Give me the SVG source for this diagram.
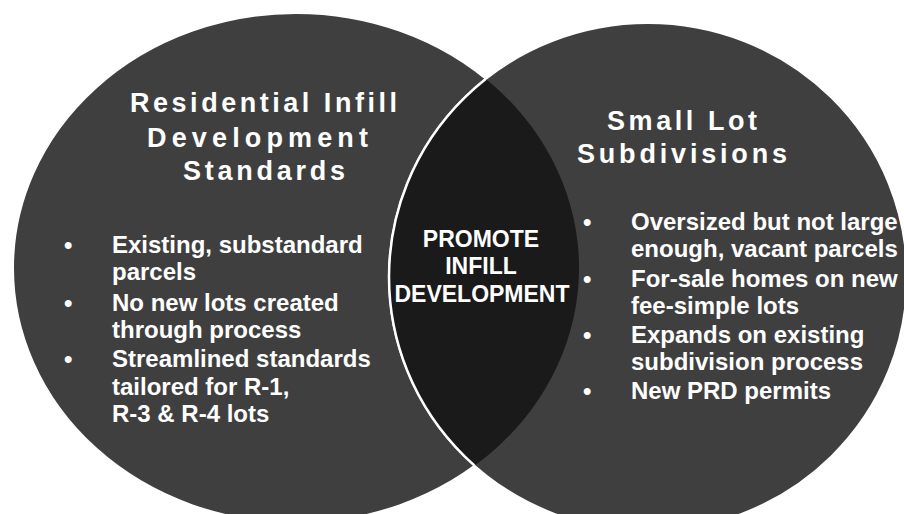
<svg xmlns="http://www.w3.org/2000/svg" width="904" height="514" viewBox="0 0 904 514">
  <defs>
    <clipPath id="clip-left">
      <ellipse cx="296" cy="268" rx="283" ry="255"/>
    </clipPath>
    <style>
      .set { fill: #3f3f3f; stroke: #ffffff; stroke-width: 2; }
      .lens { fill: #1a1a1a; stroke: #ffffff; stroke-width: 2.5; }
      text { font-family: "Liberation Sans", Arial, sans-serif; font-weight: bold; fill: #ffffff; }
      .title { font-size: 27px; }
      .body { font-size: 24px; }
      .mid { font-size: 23px; text-anchor: middle; }
    </style>
  </defs>
  <rect width="904" height="514" fill="#ffffff"/>

  <g id="left-set">
    <ellipse class="set" cx="296" cy="268" rx="283" ry="255"/>
  </g>

  <g id="right-set">
    <ellipse class="set" cx="648" cy="277" rx="259" ry="254"/>
  </g>

  <g id="overlap">
    <ellipse class="lens" cx="648" cy="277" rx="259" ry="254" clip-path="url(#clip-left)"/>
  </g>

  <g id="left-set-text">
    <text class="title" x="130" y="112" textLength="267" lengthAdjust="spacing">Residential Infill</text>
    <text class="title" x="147" y="147" textLength="221" lengthAdjust="spacing">Development</text>
    <text class="title" x="183" y="180" textLength="162" lengthAdjust="spacing">Standards</text>

    <text class="body" x="64" y="253">•</text>
    <text class="body" x="112" y="253">Existing, substandard</text>
    <text class="body" x="112" y="280">parcels</text>
    <text class="body" x="64" y="311">•</text>
    <text class="body" x="112" y="311">No new lots created</text>
    <text class="body" x="112" y="338">through process</text>
    <text class="body" x="64" y="367">•</text>
    <text class="body" x="112" y="367">Streamlined standards</text>
    <text class="body" x="112" y="395">tailored for R-1,</text>
    <text class="body" x="112" y="422">R-3 &amp; R-4 lots</text>
  </g>

  <g id="right-set-text">
    <text class="title" x="607" y="130" textLength="150" lengthAdjust="spacing">Small Lot</text>
    <text class="title" x="577" y="163" textLength="210" lengthAdjust="spacing">Subdivisions</text>

    <text class="body" x="583" y="230">•</text>
    <text class="body" x="631" y="230">Oversized but not large</text>
    <text class="body" x="631" y="257">enough, vacant parcels</text>
    <text class="body" x="583" y="287">•</text>
    <text class="body" x="631" y="287">For-sale homes on new</text>
    <text class="body" x="631" y="314">fee-simple lots</text>
    <text class="body" x="583" y="343">•</text>
    <text class="body" x="631" y="343">Expands on existing</text>
    <text class="body" x="631" y="370">subdivision process</text>
    <text class="body" x="583" y="399">•</text>
    <text class="body" x="631" y="399">New PRD permits</text>
  </g>

  <g id="overlap-text">
    <text class="mid" x="481" y="247">PROMOTE</text>
    <text class="mid" x="481" y="274">INFILL</text>
    <text class="mid" x="482" y="302">DEVELOPMENT</text>
  </g>
</svg>
